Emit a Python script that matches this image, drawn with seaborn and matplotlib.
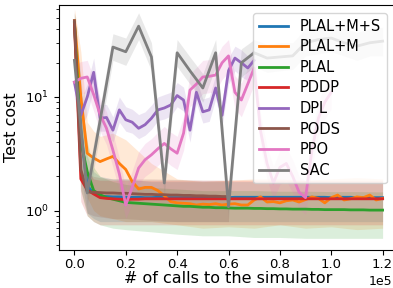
import matplotlib
matplotlib.use("Agg")
import matplotlib.pyplot as plt
import pandas as pd
import seaborn as sns

methods = ["PLAL+M+S", "PLAL+M", "PLAL", "PDDP", "DPL", "PODS", "PPO", "SAC"]

# x grids (number of simulator calls)
calls = list(range(0, 120001, 2500))
calls_sac = list(range(0, 120001, 5000))
band_calls = [0, 2500, 5000, 7500, 10000, 15000, 20000, 30000, 40000,
              50000, 60000, 70000, 80000, 90000, 100000, 110000, 120000]

# mean test cost per method
plal_ms = [45, 5.0, 1.65, 1.42, 1.34, 1.33, 1.32, 1.32, 1.31, 1.31, 1.31, 1.30, 1.30,
           1.31, 1.30, 1.30, 1.30, 1.30, 1.30, 1.30, 1.31, 1.30, 1.30, 1.30, 1.30,
           1.31, 1.31, 1.31, 1.31, 1.31, 1.31, 1.31, 1.31, 1.31, 1.31, 1.31, 1.31,
           1.31, 1.31, 1.31, 1.30, 1.31, 1.31, 1.31, 1.30, 1.30, 1.30, 1.30, 1.30]
plal_m = [47, 10, 3.2, 2.9, 2.7, 2.85, 3.0, 2.6, 2.3, 1.8, 1.55, 1.6, 1.6, 1.5, 1.35,
          1.2, 1.17, 1.16, 1.15, 1.12, 1.14, 1.13, 1.15, 1.12, 1.14, 1.15, 1.12, 1.12,
          1.24, 1.32, 1.19, 1.2, 1.17, 1.22, 1.24, 1.19, 1.25, 1.32, 1.28, 1.17, 1.3,
          1.37, 1.24, 1.27, 1.32, 1.3, 1.37, 1.24, 1.28]
plal = [45, 4.0, 2.2, 1.5, 1.38, 1.30, 1.26, 1.22, 1.18, 1.17, 1.16, 1.15, 1.14, 1.13,
        1.12, 1.11, 1.10, 1.09, 1.09, 1.08, 1.07, 1.07, 1.06, 1.06, 1.055, 1.05, 1.05,
        1.05, 1.045, 1.045, 1.04, 1.04, 1.035, 1.035, 1.03, 1.03, 1.03, 1.025, 1.025,
        1.02, 1.02, 1.02, 1.02, 1.015, 1.015, 1.015, 1.01, 1.01, 1.01]
pddp = [44, 1.9, 1.52, 1.40, 1.30, 1.28, 1.27, 1.26, 1.25, 1.26, 1.26, 1.27, 1.27,
        1.27, 1.27, 1.27, 1.27, 1.27, 1.27, 1.27, 1.27, 1.27, 1.27, 1.27, 1.27, 1.27,
        1.27, 1.27, 1.27, 1.27, 1.27, 1.27, 1.27, 1.27, 1.27, 1.27, 1.27, 1.27, 1.27,
        1.27, 1.27, 1.27, 1.27, 1.27, 1.27, 1.27, 1.27, 1.27, 1.27]
dpl = [13.5, 6.9, 10.0, 16.5, 6.5, 6.6, 5.1, 7.7, 6.3, 6.0, 5.3, 5.7, 6.5, 7.7, 8.0,
       8.5, 10.3, 9.4, 5.1, 11.0, 7.4, 7.7, 12.0, 6.9, 17.0, 22.0, 20.0, 18.0, 21.0]
pods = [47, 2.3, 1.46, 1.45, 1.44, 1.43, 1.43, 1.42, 1.42, 1.41, 1.40, 1.39, 1.39,
        1.38, 1.38, 1.37, 1.37, 1.36, 1.36, 1.35, 1.35, 1.34, 1.34, 1.33, 1.33]
ppo = [13.5, 14.6, 15.0, 10.5, 7.0, 5.3, 3.4, 2.1, 1.12, 1.6, 2.37, 2.8, 3.1, 3.5,
       3.9, 3.5, 3.2, 4.8, 11.5, 13.0, 15.0, 15.2, 15.6, 20.0, 23.0, 11.0, 9.4, 13.0,
       18.0, 5.0, 2.6, 1.75, 2.4, 2.6, 2.0, 1.45, 1.3, 3.4, 6.5, 9.0, 11.0]
sac = [21, 1.43, 6.2, 27.5, 25, 42, 22.5, 1.75, 24.5, 17, 12, 24.5, 1.08, 20, 24.5,
       22, 22.5, 23, 30, 32, 33, 30, 28, 30, 31]

# confidence bands (lower / upper)
plal_ms_lo = [35, 2.0, 0.95, 0.85, 0.8, 0.8, 0.8, 0.8, 0.8, 0.8, 0.8, 0.8, 0.8, 0.8, 0.8, 0.8, 0.8]
plal_ms_hi = [55, 15, 3.0, 2.2, 2.0, 1.9, 1.9, 1.8, 1.8, 1.8, 1.8, 1.8, 1.8, 1.8, 1.8, 1.8, 1.8]
plal_m_lo = [38, 4, 1.3, 1.0, 0.9, 0.85, 0.8, 0.8, 0.75, 0.7, 0.72, 0.7, 0.75, 0.7, 0.72, 0.68, 0.7]
plal_m_hi = [60, 25, 6, 5, 4.5, 4.8, 4.2, 2.6, 1.9, 1.8, 1.85, 1.9, 1.9, 1.85, 1.9, 1.95, 1.9]
plal_lo = [35, 1.5, 0.9, 0.8, 0.75, 0.7, 0.68, 0.65, 0.62, 0.6, 0.6, 0.58, 0.58, 0.57, 0.57, 0.57, 0.57]
plal_hi = [55, 10, 4, 2.4, 2.0, 1.8, 1.7, 1.6, 1.55, 1.5, 1.5, 1.5, 1.48, 1.48, 1.47, 1.47, 1.46]
pddp_lo = [35, 1.2, 0.9, 0.8, 0.75, 0.75, 0.75, 0.75, 0.75, 0.75, 0.75, 0.75, 0.75, 0.75, 0.75, 0.75, 0.75]
pddp_hi = [55, 3, 2.2, 1.9, 1.85, 1.85, 1.85, 1.85, 1.85, 1.85, 1.85, 1.85, 1.85, 1.85, 1.85, 1.85, 1.85]
pods_lo = [38, 1.5, 0.95, 0.9, 0.88, 0.85, 0.85, 0.82, 0.8, 0.8, 0.8]
pods_hi = [58, 3.5, 2.1, 2.0, 1.95, 1.9, 1.9, 1.9, 1.88, 1.85, 1.85]
dpl_lo = [10, 5.2, 7, 12, 5, 5, 4.0, 6, 5, 4.8, 4.3, 4.6, 5.2, 6.2, 6.4, 6.8, 8.2, 7.5,
          4.0, 8.8, 5.9, 6.1, 9.6, 5.5, 13, 17, 15, 14, 16]
dpl_hi = [18, 9.5, 13, 22, 8.6, 8.6, 6.7, 10, 8.2, 7.8, 7, 7.4, 8.5, 10, 10.5, 11, 13.4,
          12.2, 6.8, 14.3, 9.6, 10, 15.6, 9, 22, 28, 26, 23, 27]
ppo_lo = [9.5, 10.5, 11, 7.5, 5, 3.8, 2.4, 1.5, 0.85, 1.15, 1.7, 2, 2.2, 2.5, 2.8, 2.5,
          2.3, 3.4, 8.2, 9.3, 10.7, 10.9, 11.1, 14.3, 16.4, 7.9, 6.7, 9.3, 12.9, 3.6,
          1.9, 1.25, 1.7, 1.85, 1.43, 1.04, 0.93, 2.4, 4.6, 6.4, 7.9]
ppo_hi = [19, 20.5, 21, 14.7, 9.8, 7.4, 4.8, 2.9, 1.57, 2.24, 3.3, 3.9, 4.3, 4.9, 5.5,
          4.9, 4.5, 6.7, 16, 18.2, 21, 21.3, 21.8, 28, 32, 15.4, 13.2, 18.2, 25, 7, 3.6,
          2.45, 3.4, 3.6, 2.8, 2.0, 1.82, 4.8, 9.1, 12.6, 15.4]
sac_lo = [16, 1.1, 4.7, 21, 19, 32, 17, 1.35, 18.5, 13, 9, 18.5, 0.85, 15, 18.5, 16.5,
          17, 17.5, 23, 24, 25, 23, 21, 23, 23]
sac_hi = [28, 1.9, 8.2, 36, 33, 55, 30, 2.3, 32, 22.5, 16, 32, 1.4, 26.5, 32, 29, 30,
          30, 40, 42, 44, 40, 37, 40, 41]

lines = {
    "PLAL+M+S": (calls, plal_ms),
    "PLAL+M": (calls, plal_m),
    "PLAL": (calls, plal),
    "PDDP": (calls, pddp),
    "DPL": (calls, dpl),
    "PODS": (calls, pods),
    "PPO": (calls, ppo),
    "SAC": (calls_sac, sac),
}
bands = {
    "PLAL+M+S": (band_calls, plal_ms_lo, plal_ms_hi),
    "PLAL+M": (band_calls, plal_m_lo, plal_m_hi),
    "PLAL": (band_calls, plal_lo, plal_hi),
    "PDDP": (band_calls, pddp_lo, pddp_hi),
    "DPL": (calls, dpl_lo, dpl_hi),
    "PODS": (band_calls, pods_lo, pods_hi),
    "PPO": (calls, ppo_lo, ppo_hi),
    "SAC": (calls_sac, sac_lo, sac_hi),
}

df = pd.concat([pd.DataFrame({"calls": x[:len(y)], "cost": y, "method": m})
                for m, (x, y) in lines.items()], ignore_index=True)

palette = dict(zip(methods, sns.color_palette("tab10", 8)))

fig = plt.figure(figsize=(3.93, 2.88), dpi=100)
ax = fig.add_axes([59 / 393, 38 / 288, 339 / 393, 245 / 288])

for m in methods:
    bx, lo, hi = bands[m]
    ax.fill_between(bx[:len(lo)], lo, hi, color=palette[m], alpha=0.17, lw=0)

sns.lineplot(data=df, x="calls", y="cost", hue="method", hue_order=methods,
             palette=palette, lw=2, errorbar=None, ax=ax)

ax.set_yscale("log")
ax.set_ylim(0.45, 64.5)
ax.set_xlim(-6000, 126000)
ax.ticklabel_format(axis="x", style="sci", scilimits=(0, 0))
offset = ax.xaxis.get_offset_text()
offset.set_fontsize(9)
offset.set_x(0.982)
ax.tick_params(labelsize=9.5)
ax.tick_params(axis="x", pad=2)
ax.set_xlabel("# of calls to the simulator", fontsize=11.5, labelpad=0)
ax.set_ylabel("Test cost", fontsize=11.5)

handles, labels = ax.get_legend_handles_labels()
ax.legend(handles, labels, loc="upper right", bbox_to_anchor=(387 / 393, 1 - 13 / 288),
          bbox_transform=fig.transFigure, borderaxespad=0, fontsize=10.5,
          labelspacing=0.38)

fig.savefig("out.png", dpi=100)
